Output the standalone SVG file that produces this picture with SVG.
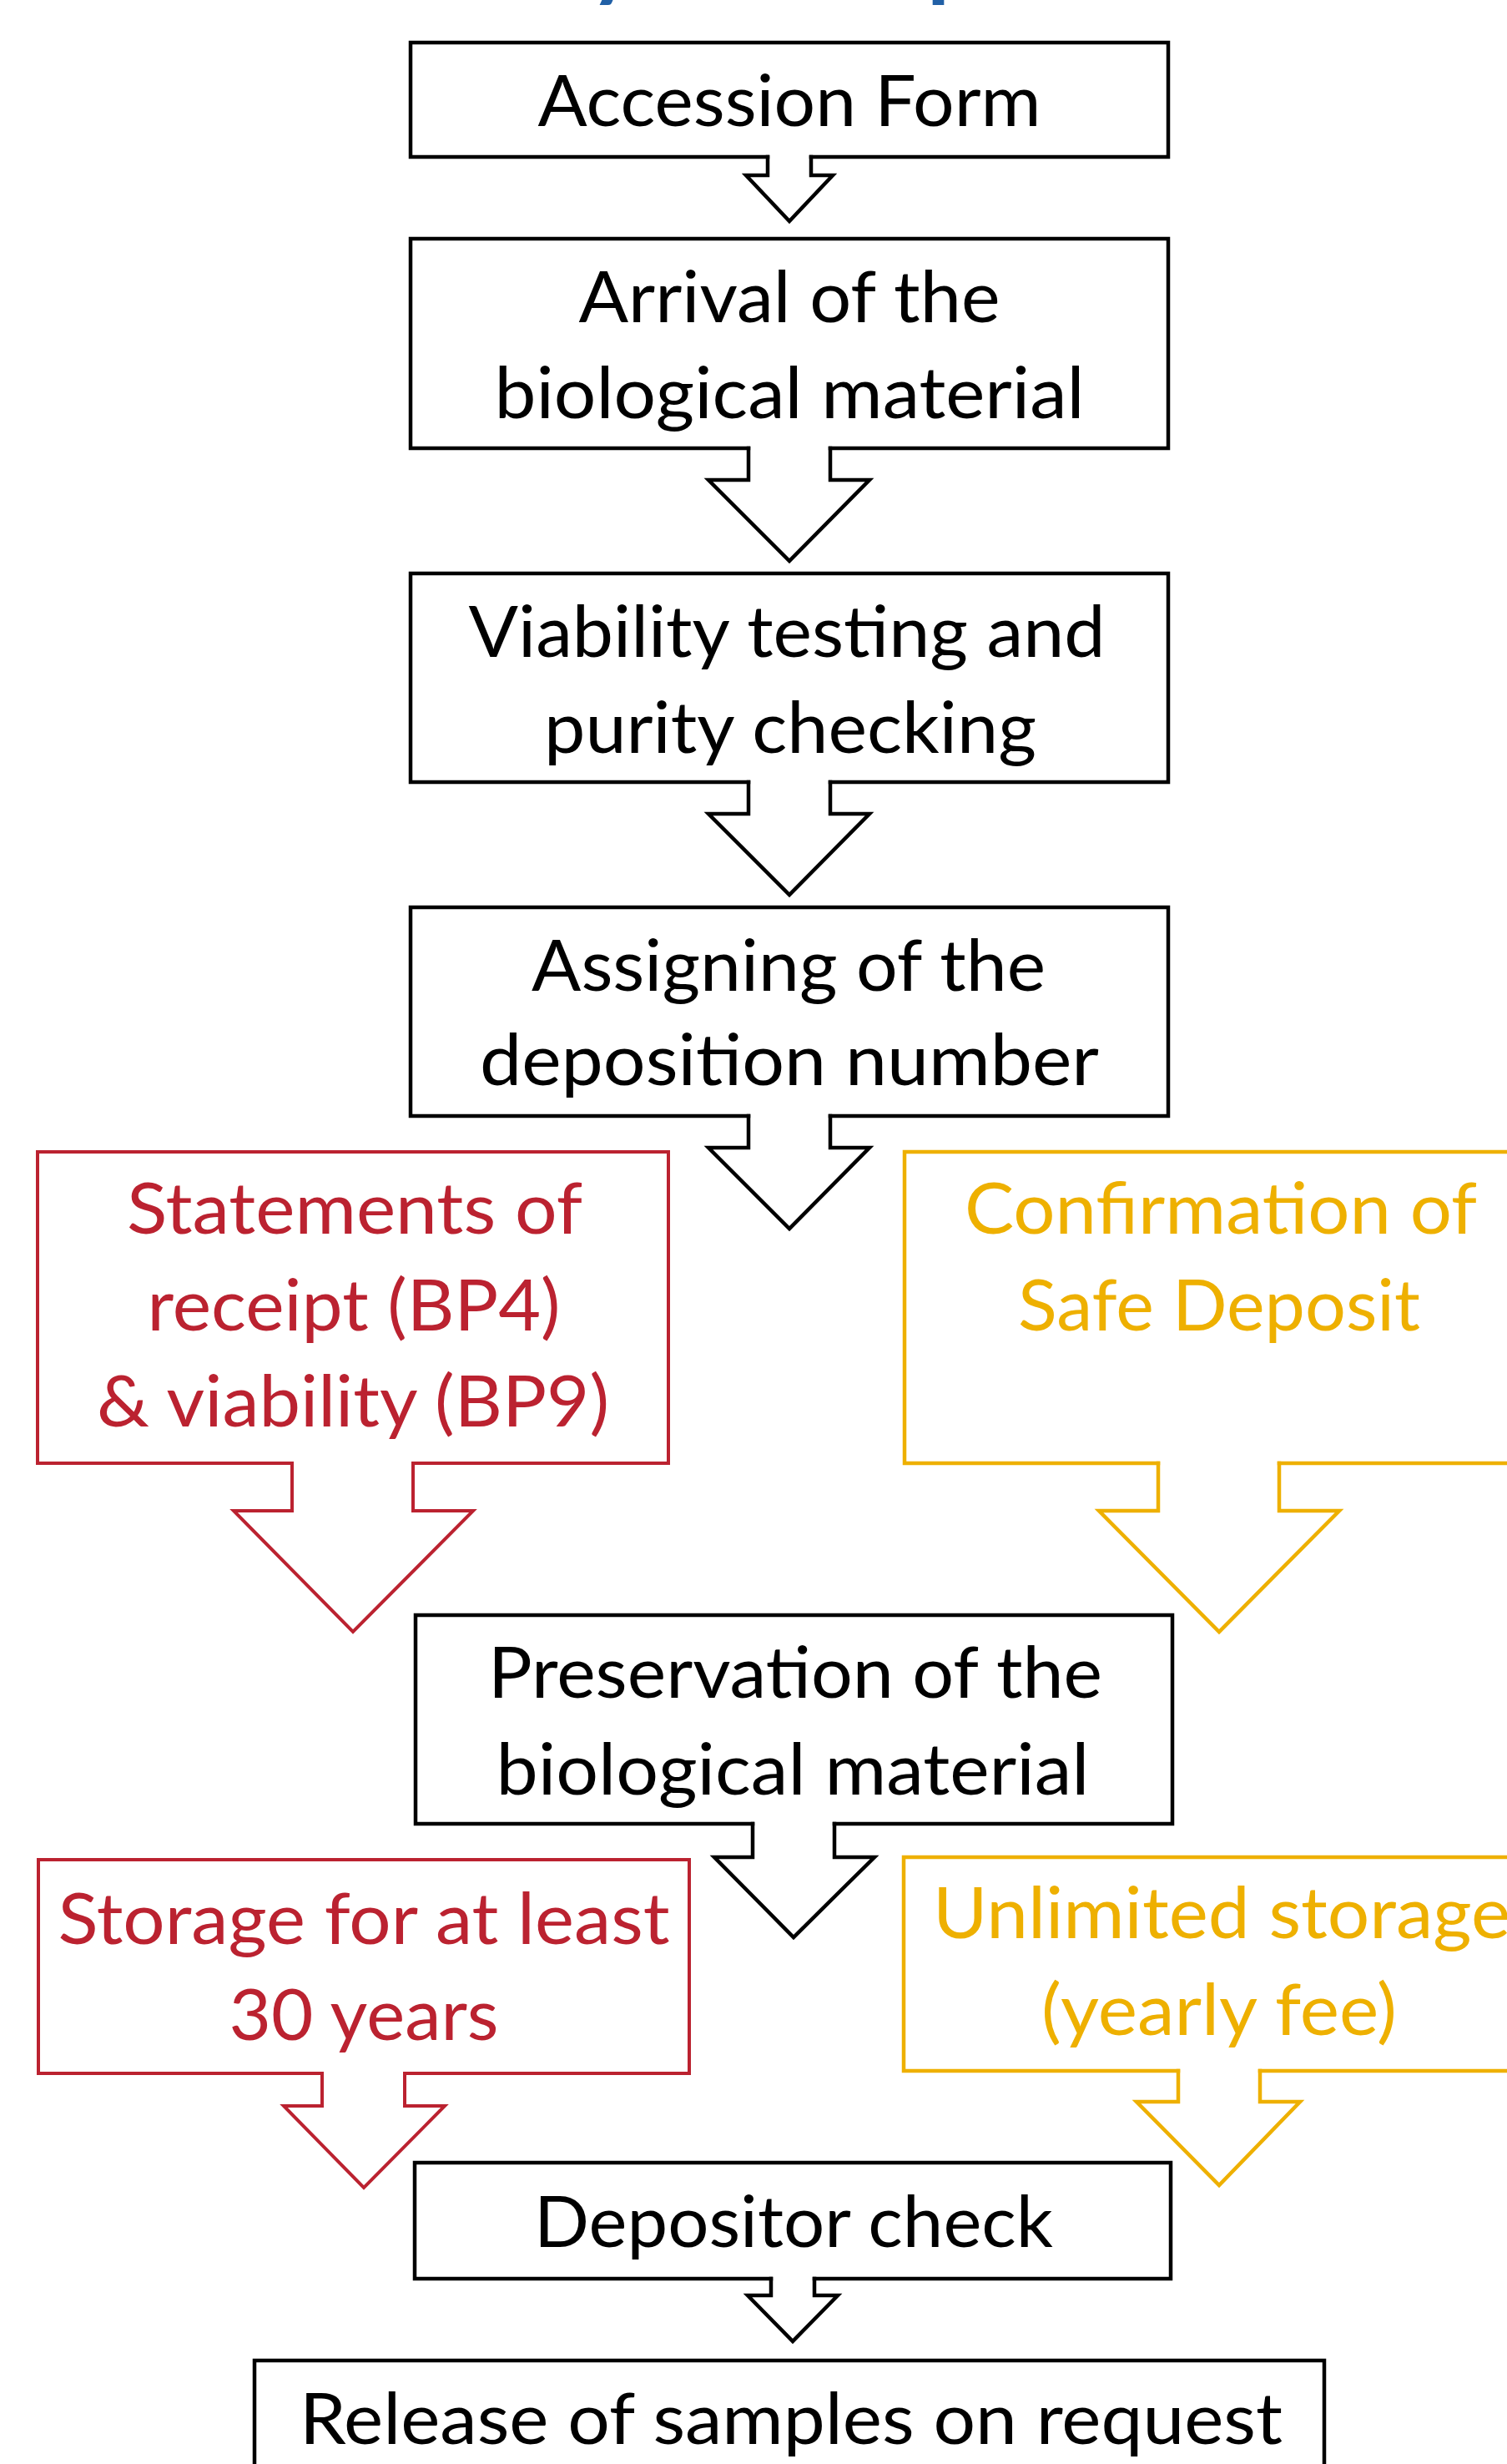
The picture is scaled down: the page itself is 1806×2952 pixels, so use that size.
<svg xmlns="http://www.w3.org/2000/svg" width="1806" height="2952" viewBox="0 0 1806 2952">
  <style>
    .bk { fill: none; stroke: #000000; stroke-width: 4.5; stroke-linejoin: miter; stroke-linecap: square; }
    .rd { fill: none; stroke: #BB2230; stroke-width: 4; stroke-linejoin: miter; stroke-linecap: square; }
    .yl { fill: none; stroke: #EEB000; stroke-width: 4.5; stroke-linejoin: miter; stroke-linecap: square; }
    text { font-family: Lato, "Open Sans", "Liberation Sans", sans-serif; font-size: 86px; text-anchor: middle; }
    .tb { fill: #000000; }
    .tr { fill: #BB2230; }
    .ty { fill: #EEB000; }
    .title { fill: #2160A6; font-weight: bold; font-size: 110px; text-anchor: start; }
  </style>
  <rect x="0" y="0" width="1806" height="2952" fill="#ffffff"/>

  <g id="title-fragment">
    <text class="title" x="706" y="-12">y</text>
    <text class="title" x="1111" y="-12">p</text>
  </g>

  <g id="node-accession-form">
    <path class="bk" d="M920,188 H492 V51 H1400 V188 H972"/>
    <text class="tb" x="946" y="151" textLength="603" lengthAdjust="spacingAndGlyphs">Accession Form</text>
  </g>

  <g id="node-arrival">
    <path class="bk" d="M897,537 H492 V286 H1400 V537 H995"/>
    <text class="tb" x="946" y="386" textLength="505" lengthAdjust="spacingAndGlyphs">Arrival of the</text>
    <text class="tb" x="946" y="501" textLength="707" lengthAdjust="spacingAndGlyphs">biological material</text>
  </g>

  <g id="node-viability">
    <path class="bk" d="M897,937 H492 V687 H1400 V937 H995"/>
    <text class="tb" x="943" y="787" textLength="763" lengthAdjust="spacingAndGlyphs">Viability testing and</text>
    <text class="tb" x="947" y="902" textLength="590" lengthAdjust="spacingAndGlyphs">purity checking</text>
  </g>

  <g id="node-assigning">
    <path class="bk" d="M897,1337 H492 V1087 H1400 V1337 H995"/>
    <text class="tb" x="945" y="1187" textLength="616" lengthAdjust="spacingAndGlyphs">Assigning of the</text>
    <text class="tb" x="946" y="1300" textLength="742" lengthAdjust="spacingAndGlyphs">deposition number</text>
  </g>

  <g id="node-statements">
    <path class="rd" d="M350,1753 H45 V1380 H801 V1753 H495"/>
    <text class="tr" x="425" y="1478" textLength="546" lengthAdjust="spacingAndGlyphs">Statements of</text>
    <text class="tr" x="424" y="1594" textLength="495" lengthAdjust="spacingAndGlyphs">receipt (BP4)</text>
    <text class="tr" x="423" y="1709" textLength="614" lengthAdjust="spacingAndGlyphs">&amp; viability (BP9)</text>
  </g>

  <g id="node-confirmation">
    <path class="yl" d="M1388,1753 H1084 V1380 H1850 M1850,1753 H1533"/>
    <text class="ty" x="1463" y="1478" textLength="614" lengthAdjust="spacingAndGlyphs">Confirmation of</text>
    <text class="ty" x="1461" y="1594" textLength="482" lengthAdjust="spacingAndGlyphs">Safe Deposit</text>
  </g>

  <g id="node-preservation">
    <path class="bk" d="M902,2185 H498 V1935 H1405 V2185 H1000"/>
    <text class="tb" x="953" y="2034" textLength="736" lengthAdjust="spacingAndGlyphs">Preservation of the</text>
    <text class="tb" x="950" y="2150" textLength="711" lengthAdjust="spacingAndGlyphs">biological material</text>
  </g>

  <g id="node-storage-30">
    <path class="rd" d="M386,2484 H46 V2228 H826 V2484 H485"/>
    <text class="tr" x="436" y="2329" textLength="733" lengthAdjust="spacingAndGlyphs">Storage for at least</text>
    <text class="tr" x="436" y="2444" textLength="323" lengthAdjust="spacingAndGlyphs">30 years</text>
  </g>

  <g id="node-unlimited">
    <path class="yl" d="M1412,2481 H1083 V2225 H1850 M1850,2481 H1510"/>
    <text class="ty" x="1464" y="2322" textLength="692" lengthAdjust="spacingAndGlyphs">Unlimited storage</text>
    <text class="ty" x="1461" y="2438" textLength="426" lengthAdjust="spacingAndGlyphs">(yearly fee)</text>
  </g>

  <g id="node-depositor-check">
    <path class="bk" d="M924,2730 H497 V2591 H1403 V2730 H976"/>
    <text class="tb" x="951" y="2692" textLength="622" lengthAdjust="spacingAndGlyphs">Depositor check</text>
  </g>

  <g id="node-release">
    <path class="bk" d="M305,3000 V2828 H1587 V3000"/>
    <text class="tb" x="948" y="2928" textLength="1178" lengthAdjust="spacingAndGlyphs">Release of samples on request</text>
  </g>

  <g id="connectors">
    <path class="bk" d="M920,188 V210 H894 L946,265 L998,210 H972 V188"/>
    <path class="bk" d="M897,537 V575 H849 L946,672 L1042,575 H995 V537"/>
    <path class="bk" d="M897,937 V975 H849 L946,1072 L1042,975 H995 V937"/>
    <path class="bk" d="M897,1337 V1375 H849 L946,1472 L1042,1375 H995 V1337"/>
    <path class="rd" d="M350,1753 V1810 H280 L423,1955 L567,1810 H495 V1753"/>
    <path class="yl" d="M1388,1753 V1810 H1317 L1461,1955 L1605,1810 H1533 V1753"/>
    <path class="bk" d="M902,2185 V2225 H856 L951,2321 L1048,2225 H1000 V2185"/>
    <path class="rd" d="M386,2484 V2523 H340 L436,2621 L533,2523 H485 V2484"/>
    <path class="yl" d="M1412,2481 V2518 H1362 L1461,2618 L1558,2518 H1510 V2481"/>
    <path class="bk" d="M924,2730 V2750 H896 L950,2805 L1004,2750 H976 V2730"/>
  </g>
</svg>
